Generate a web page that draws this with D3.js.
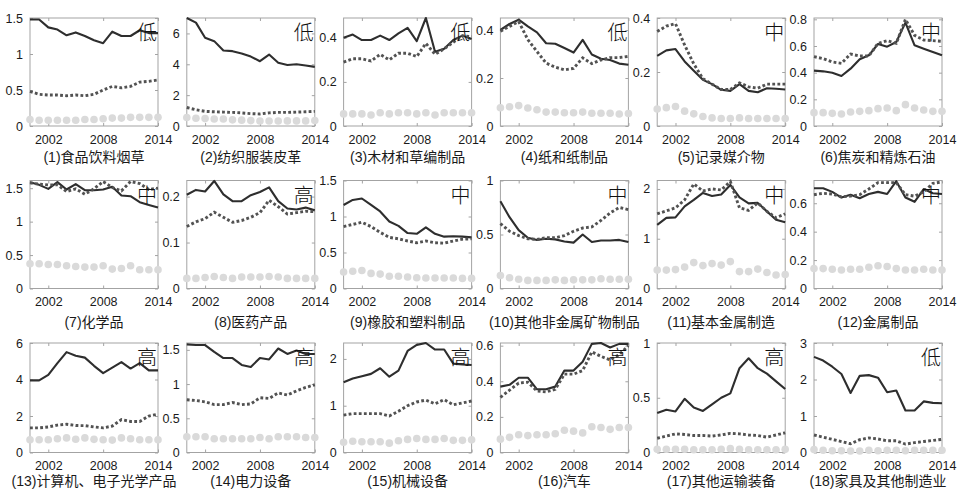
<!DOCTYPE html>
<html>
<head>
<meta charset="utf-8">
<script src="https://cdn.jsdelivr.net/npm/d3@7/dist/d3.min.js"></script>
<style>
  html, body { margin: 0; padding: 0; background: #fff; }
  svg { display: block; }
  .tick-label { font-family: "Liberation Sans", Arial, sans-serif; font-size: 12.5px; fill: #1a1a1a; }
  .title { font-family: "Liberation Sans", Arial, "Noto Sans CJK SC", sans-serif; font-size: 14px; fill: #1a1a1a; }
  .level { font-family: "Noto Sans CJK SC", sans-serif; font-size: 20px; font-weight: 300; fill: #111; }
</style>
</head>
<body>
<svg id="chart" width="958" height="491"></svg>
<script>
// Years on the x axis
const years = [2000, 2001, 2002, 2003, 2004, 2005, 2006, 2007, 2008, 2009, 2010, 2011, 2012, 2013, 2014];
const xTicks = [2002, 2008, 2014];

// Industry panel titles
const titles = [
  "(1)食品饮料烟草", "(2)纺织服装皮革", "(3)木材和草编制品", "(4)纸和纸制品", "(5)记录媒介物", "(6)焦炭和精炼石油",
  "(7)化学品", "(8)医药产品", "(9)橡胶和塑料制品", "(10)其他非金属矿物制品", "(11)基本金属制造", "(12)金属制品",
  "(13)计算机、电子光学产品", "(14)电力设备", "(15)机械设备", "(16)汽车", "(17)其他运输装备", "(18)家具及其他制造业"
];

// Technology level tag of each industry
const levels = ["低", "低", "低", "低", "中", "中", "中", "高", "中", "中", "中", "中", "高", "高", "高", "高", "高", "低"];

// Upper limit of each panel's y axis
const yMax = [1.5, 7, 0.49, 0.45, 0.4, 0.81, 1.615, 0.235, 1.5, 1, 2.17, 0.76, 6, 1.6, 2.34, 0.615, 1, 3];

// Y tick values of each panel
const yTicks = [
  [0, 0.5, 1, 1.5], [0, 2, 4, 6], [0, 0.2, 0.4], [0, 0.2, 0.4], [0, 0.2, 0.4], [0, 0.2, 0.4, 0.6, 0.8],
  [0, 0.5, 1, 1.5], [0, 0.1, 0.2], [0, 0.5, 1, 1.5], [0, 0.5, 1], [0, 1, 2], [0, 0.2, 0.4, 0.6],
  [0, 2, 4, 6], [0, 0.5, 1, 1.5], [0, 1, 2], [0, 0.2, 0.4, 0.6], [0, 0.5, 1], [0, 1, 2, 3]
];

// Solid series
const solidSeries = [
  [1.48, 1.48, 1.37, 1.34, 1.26, 1.30, 1.25, 1.19, 1.15, 1.31, 1.25, 1.25, 1.33, 1.29, 1.29],
  [7.0, 6.7, 5.72, 5.5, 4.89, 4.85, 4.7, 4.5, 4.2, 4.63, 4.1, 3.95, 4.0, 3.92, 3.83],
  [0.40, 0.415, 0.39, 0.39, 0.41, 0.39, 0.42, 0.445, 0.385, 0.49, 0.337, 0.35, 0.39, 0.41, 0.395],
  [0.40, 0.425, 0.443, 0.415, 0.39, 0.345, 0.343, 0.325, 0.306, 0.359, 0.298, 0.28, 0.275, 0.26, 0.255],
  [0.26, 0.28, 0.285, 0.239, 0.205, 0.171, 0.155, 0.134, 0.13, 0.155, 0.13, 0.125, 0.14, 0.138, 0.135],
  [0.415, 0.41, 0.40, 0.375, 0.43, 0.50, 0.53, 0.615, 0.595, 0.63, 0.775, 0.605, 0.58, 0.555, 0.53],
  [1.59, 1.55, 1.49, 1.59, 1.48, 1.56, 1.47, 1.47, 1.48, 1.52, 1.39, 1.38, 1.29, 1.25, 1.21],
  [0.204, 0.2145, 0.211, 0.234, 0.205, 0.19, 0.19, 0.203, 0.21, 0.22, 0.19, 0.174, 0.172, 0.176, 0.17],
  [1.16, 1.23, 1.25, 1.16, 1.07, 0.93, 0.87, 0.77, 0.76, 0.85, 0.76, 0.72, 0.725, 0.72, 0.71],
  [0.808, 0.66, 0.54, 0.47, 0.45, 0.46, 0.455, 0.435, 0.425, 0.50, 0.43, 0.445, 0.445, 0.45, 0.43],
  [1.28, 1.42, 1.43, 1.65, 1.78, 1.92, 1.86, 1.89, 2.08, 1.83, 1.71, 1.72, 1.55, 1.38, 1.33],
  [0.705, 0.705, 0.68, 0.64, 0.66, 0.635, 0.665, 0.68, 0.665, 0.755, 0.64, 0.61, 0.70, 0.67, 0.665],
  [3.95, 3.95, 4.25, 4.9, 5.5, 5.3, 5.2, 4.75, 4.35, 4.65, 4.95, 4.6, 4.9, 4.5, 4.5],
  [1.58, 1.57, 1.57, 1.47, 1.38, 1.38, 1.28, 1.25, 1.38, 1.36, 1.52, 1.44, 1.49, 1.44, 1.44],
  [1.5, 1.58, 1.63, 1.68, 1.8, 1.62, 1.75, 2.17, 2.3, 2.34, 2.2, 2.2, 1.9, 1.88, 1.87],
  [0.37, 0.38, 0.42, 0.42, 0.355, 0.355, 0.37, 0.46, 0.46, 0.51, 0.61, 0.615, 0.59, 0.61, 0.61],
  [0.36, 0.39, 0.375, 0.49, 0.41, 0.38, 0.44, 0.50, 0.54, 0.77, 0.86, 0.77, 0.72, 0.65, 0.58],
  [2.62, 2.52, 2.35, 2.15, 1.63, 2.1, 2.12, 2.05, 1.65, 1.7, 1.15, 1.15, 1.4, 1.36, 1.35]
];

// Dotted series
const dottedSeries = [
  [0.48, 0.44, 0.43, 0.43, 0.42, 0.43, 0.42, 0.44, 0.50, 0.55, 0.53, 0.55, 0.61, 0.62, 0.64],
  [1.2, 1.05, 0.95, 0.92, 0.9, 0.88, 0.85, 0.8, 0.78, 0.85, 0.88, 0.88, 0.9, 0.92, 0.95],
  [0.29, 0.305, 0.305, 0.295, 0.325, 0.30, 0.33, 0.33, 0.315, 0.375, 0.325, 0.35, 0.38, 0.41, 0.405],
  [0.395, 0.415, 0.435, 0.36, 0.31, 0.262, 0.245, 0.234, 0.24, 0.284, 0.26, 0.275, 0.285, 0.285, 0.29],
  [0.35, 0.37, 0.379, 0.30, 0.23, 0.175, 0.155, 0.135, 0.135, 0.16, 0.145, 0.14, 0.155, 0.155, 0.155],
  [0.52, 0.505, 0.48, 0.47, 0.54, 0.525, 0.525, 0.62, 0.64, 0.62, 0.80, 0.68, 0.645, 0.64, 0.635],
  [1.58, 1.56, 1.55, 1.55, 1.45, 1.49, 1.41, 1.49, 1.60, 1.51, 1.46, 1.60, 1.57, 1.48, 1.5],
  [0.135, 0.145, 0.152, 0.166, 0.155, 0.144, 0.148, 0.155, 0.165, 0.192, 0.178, 0.162, 0.165, 0.168, 0.167],
  [0.86, 0.89, 0.92, 0.86, 0.78, 0.71, 0.69, 0.66, 0.635, 0.66, 0.635, 0.63, 0.66, 0.685, 0.69],
  [0.60, 0.53, 0.49, 0.46, 0.455, 0.47, 0.47, 0.49, 0.53, 0.56, 0.57, 0.63, 0.70, 0.75, 0.73],
  [1.5, 1.56, 1.62, 1.78, 2.1, 1.96, 2.0, 1.98, 2.15, 1.62, 1.57, 1.72, 1.55, 1.42, 1.5],
  [0.66, 0.67, 0.665, 0.645, 0.65, 0.66, 0.70, 0.745, 0.745, 0.745, 0.66, 0.65, 0.68, 0.74, 0.75],
  [1.35, 1.35, 1.4, 1.5, 1.55, 1.48, 1.47, 1.4, 1.35, 1.45, 1.8, 1.7, 1.7, 2.0, 2.1],
  [0.77, 0.76, 0.74, 0.70, 0.70, 0.73, 0.70, 0.71, 0.80, 0.79, 0.87, 0.84, 0.90, 0.95, 0.99],
  [0.8, 0.83, 0.83, 0.83, 0.83, 0.78, 0.88, 1.0, 1.08, 1.12, 1.04, 1.13, 1.02, 1.06, 1.1],
  [0.31, 0.35, 0.39, 0.395, 0.345, 0.34, 0.355, 0.44, 0.44, 0.46, 0.565, 0.54, 0.52, 0.55, 0.60],
  [0.13, 0.15, 0.17, 0.165, 0.155, 0.155, 0.15, 0.16, 0.175, 0.17, 0.16, 0.155, 0.14, 0.16, 0.18],
  [0.48, 0.42, 0.36, 0.30, 0.24, 0.35, 0.40, 0.37, 0.32, 0.32, 0.23, 0.27, 0.30, 0.33, 0.36]
];

// Light grey dot series
const dotSeries = [
  [0.09, 0.08, 0.08, 0.08, 0.08, 0.08, 0.09, 0.09, 0.10, 0.11, 0.11, 0.12, 0.12, 0.12, 0.12],
  [0.55, 0.5, 0.48, 0.45, 0.45, 0.4, 0.38, 0.35, 0.32, 0.32, 0.32, 0.33, 0.33, 0.33, 0.35],
  [0.055, 0.055, 0.055, 0.05, 0.06, 0.055, 0.06, 0.06, 0.055, 0.06, 0.05, 0.06, 0.06, 0.06, 0.06],
  [0.076, 0.08, 0.085, 0.075, 0.068, 0.058, 0.058, 0.055, 0.055, 0.058, 0.053, 0.053, 0.053, 0.05, 0.052],
  [0.063, 0.068, 0.072, 0.055, 0.045, 0.035, 0.03, 0.028, 0.028, 0.03, 0.028, 0.028, 0.028, 0.028, 0.028],
  [0.1, 0.1, 0.095, 0.09, 0.105, 0.11, 0.115, 0.13, 0.135, 0.115, 0.16, 0.135, 0.12, 0.11, 0.11],
  [0.37, 0.37, 0.36, 0.36, 0.34, 0.33, 0.32, 0.32, 0.34, 0.29, 0.30, 0.34, 0.28, 0.28, 0.28],
  [0.022, 0.022, 0.024, 0.026, 0.024, 0.022, 0.025, 0.025, 0.025, 0.026, 0.025, 0.022, 0.022, 0.022, 0.022],
  [0.23, 0.24, 0.25, 0.21, 0.2, 0.17, 0.17, 0.16, 0.15, 0.145, 0.145, 0.145, 0.145, 0.14, 0.14],
  [0.12, 0.1, 0.085, 0.075, 0.075, 0.075, 0.08, 0.075, 0.08, 0.08, 0.08, 0.09, 0.085, 0.085, 0.085],
  [0.37, 0.37, 0.38, 0.43, 0.52, 0.46, 0.50, 0.47, 0.54, 0.34, 0.34, 0.39, 0.32, 0.27, 0.28],
  [0.14, 0.14, 0.135, 0.13, 0.135, 0.135, 0.15, 0.16, 0.155, 0.14, 0.13, 0.13, 0.135, 0.13, 0.13],
  [0.7, 0.7, 0.7, 0.75, 0.8, 0.73, 0.8, 0.72, 0.7, 0.68, 0.8, 0.75, 0.7, 0.7, 0.7],
  [0.23, 0.23, 0.23, 0.2, 0.2, 0.2, 0.2, 0.2, 0.22, 0.2, 0.23, 0.23, 0.23, 0.22, 0.22],
  [0.22, 0.24, 0.23, 0.23, 0.23, 0.2, 0.25, 0.28, 0.3, 0.28, 0.28, 0.3, 0.26, 0.26, 0.27],
  [0.075, 0.085, 0.1, 0.095, 0.1, 0.1, 0.105, 0.125, 0.12, 0.11, 0.145, 0.14, 0.13, 0.14, 0.14],
  [0.03, 0.03, 0.03, 0.03, 0.025, 0.025, 0.025, 0.03, 0.035, 0.03, 0.025, 0.025, 0.025, 0.025, 0.03],
  [0.08, 0.06, 0.05, 0.05, 0.04, 0.04, 0.06, 0.05, 0.06, 0.06, 0.05, 0.06, 0.06, 0.06, 0.06]
];

// Grid layout: 3 rows x 6 columns of small panels
const cols = 6;
const colLeft = 30, colStep = 156.8, panelW = 128;
const rowTop = [18, 180.5, 343];
const rowBottom = [126, 288.5, 452.5];
const titleOffset = [36, 38, 33];

const svg = d3.select("#chart");

titles.forEach((title, i) => {
  const r = Math.floor(i / cols), c = i % cols;
  const left = colLeft + c * colStep, right = left + panelW;
  const top = rowTop[r], bottom = rowBottom[r];

  const x = d3.scaleLinear().domain([2000, 2014]).range([left, right]);
  const y = d3.scaleLinear().domain([0, yMax[i]]).range([bottom, top]);

  const g = svg.append("g");

  // Frame
  g.append("rect")
    .attr("x", left).attr("y", top)
    .attr("width", panelW).attr("height", bottom - top)
    .attr("fill", "none").attr("stroke", "#a3a3a3").attr("stroke-width", 1);

  // Axes with inward ticks on all four sides
  const fmt = d => String(d);
  const axL = g.append("g").attr("transform", `translate(${left},0)`)
    .call(d3.axisLeft(y).tickValues(yTicks[i]).tickSize(-3).tickPadding(7).tickFormat(fmt));
  const axR = g.append("g").attr("transform", `translate(${right},0)`)
    .call(d3.axisRight(y).tickValues(yTicks[i]).tickSize(-3).tickFormat(""));
  const axB = g.append("g").attr("transform", `translate(0,${bottom})`)
    .call(d3.axisBottom(x).tickValues(xTicks).tickSize(-3).tickPadding(9).tickFormat(d3.format("d")));
  const axT = g.append("g").attr("transform", `translate(0,${top})`)
    .call(d3.axisTop(x).tickValues(xTicks).tickSize(-3).tickFormat(""));
  [axL, axR, axB, axT].forEach(a => {
    a.select(".domain").remove();
    a.selectAll(".tick line").attr("stroke", "#a3a3a3");
    a.selectAll(".tick text").attr("class", "tick-label").attr("fill", null);
    a.attr("font-family", null).attr("font-size", null);
  });

  const line = d3.line().x((d, k) => x(years[k])).y(d => y(d));

  // Solid series
  g.append("path").datum(solidSeries[i])
    .attr("d", line).attr("fill", "none")
    .attr("stroke", "#2e2e2e").attr("stroke-width", 2.1)
    .attr("stroke-linejoin", "round");

  // Dotted series
  g.append("path").datum(dottedSeries[i])
    .attr("d", line).attr("fill", "none")
    .attr("stroke", "#525252").attr("stroke-width", 2.9)
    .attr("stroke-dasharray", "2.8,2.3");

  // Light grey dots
  g.selectAll("circle.dot").data(dotSeries[i]).enter().append("circle")
    .attr("class", "dot")
    .attr("cx", (d, k) => x(years[k])).attr("cy", d => y(d))
    .attr("r", 3.8).attr("fill", "#dadada");

  // Technology level tag
  g.append("text").attr("class", "level")
    .attr("x", right - 1).attr("y", top + 22)
    .attr("text-anchor", "end").text(levels[i]);

  // Panel title
  g.append("text").attr("class", "title")
    .attr("x", (left + right) / 2).attr("y", bottom + titleOffset[r])
    .attr("text-anchor", "middle").text(title);
});
</script>
</body>
</html>
